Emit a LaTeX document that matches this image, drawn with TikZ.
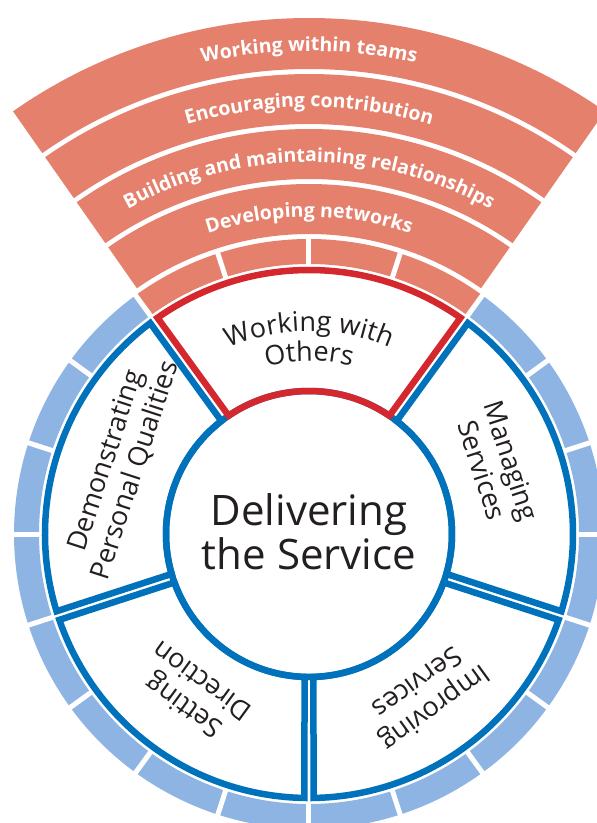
\documentclass[tikz,border=0pt]{standalone}
\usepackage{fontspec}
\setmainfont{Open Sans}
\usepackage{tikz}
\usetikzlibrary{decorations.text}

\definecolor{salmon}{RGB}{229,128,109}
\definecolor{segblue}{RGB}{142,180,227}
\definecolor{ringblue}{RGB}{0,114,188}
\definecolor{ringred}{RGB}{212,40,46}
\definecolor{inkgray}{RGB}{35,31,32}

\newcommand\rin{143}
\newcommand\rout{264}
\newcommand\gapin{1.8}
\newcommand\gapout{0.98}
\newcommand\labelfont{\fontsize{27}{31}\selectfont}
\newcommand\corefont{\fontsize{42}{44}\selectfont}
\newcommand\bandfont{\fontsize{19.5}{20}\selectfont\bfseries}

% outline of one sector between two angles, pulled in to leave a white gap
\newcommand\sectoroutline[3]{%
  \draw[sectorline, #3] ({#1+\gapin}:\rin) -- ({#1+\gapout}:\rout)
    arc[start angle=#1+\gapout, end angle=#2-\gapout, radius=\rout]
    -- ({#2-\gapin}:\rin)
    arc[start angle=#2-\gapin, end angle=#1+\gapin, radius=\rin] -- cycle;}

% white text set along the middle of a fan band
\newcommand\bandtext[2]{%
  \path[decorate, decoration={text along path, text color=white,
    text align=center, text={|\bandfont|#2}}]
    (125:#1) arc[start angle=125, end angle=55, radius=#1];}

\begin{document}
\begin{tikzpicture}[x=1pt, y=1pt,
  sectorline/.style={line width=6.5pt, line join=miter},
  seclabel/.style={font=\labelfont, text=inkgray, align=center, inner sep=0pt},
  gapline/.style={white, line width=5pt}
]
  \fill[white] (-309,-289) rectangle (288,534);
  \useasboundingbox (-309,-289) rectangle (288,534);

  % outer ring of small segments
  \foreach \a in {126,144,...,396}
    \fill[segblue] (\a:270) arc[start angle=\a, end angle=\a+18, radius=270]
      -- ({\a+18}:295) arc[start angle=\a+18, end angle=\a, radius=295] -- cycle;
  \foreach \a in {54,72,90,108}
    \fill[salmon] (\a:270) arc[start angle=\a, end angle=\a+18, radius=270]
      -- ({\a+18}:295) arc[start angle=\a+18, end angle=\a, radius=295] -- cycle;
  \foreach \a in {0,18,...,342}
    \draw[gapline] (\a:268) -- (\a:297);

  % fan of bands above the top sector
  \foreach \ri/\ro in {300/350, 355/405, 410/460, 465/516}
    \fill[salmon] (125:\ri) arc[start angle=125, end angle=55, radius=\ri]
      -- (55:\ro) arc[start angle=55, end angle=125, radius=\ro] -- cycle;
  \bandtext{317}{Developing networks}
  \bandtext{372}{Building and maintaining relationships}
  \bandtext{427}{Encouraging contribution}
  \bandtext{483}{Working within teams}

  % core circle and the five sectors
  \draw[sectorline, ringblue] (0,0) circle[radius=\rin];
  \sectoroutline{-18}{54}{ringblue}
  \sectoroutline{126}{198}{ringblue}
  \sectoroutline{198}{270}{ringblue}
  \sectoroutline{270}{342}{ringblue}
  \sectoroutline{54}{126}{ringred}

  \node[font=\corefont, text=inkgray, align=center] (core) at (0,2) {Delivering\\the Service};
  \node[seclabel, rotate=-72] (manage) at (20:200) {Managing\\Services};
  \node[seclabel, rotate=72] (personal) at (160:200) {Demonstrating\\Personal Qualities};
  \node[seclabel, rotate=144] (direction) at (234:198) {Setting\\Direction};
  \node[seclabel, rotate=-144] (improve) at (306:200) {Improving\\Services};
  \path[decorate, decoration={text along path, text color=inkgray, text align=center,
    text={|\labelfont|Working with}}] (130:203) arc[start angle=130, end angle=50, radius=203];
  \path[decorate, decoration={text along path, text color=inkgray, text align=center,
    text={|\labelfont|Others}}] (110:173) arc[start angle=110, end angle=70, radius=173];
\end{tikzpicture}
\end{document}
